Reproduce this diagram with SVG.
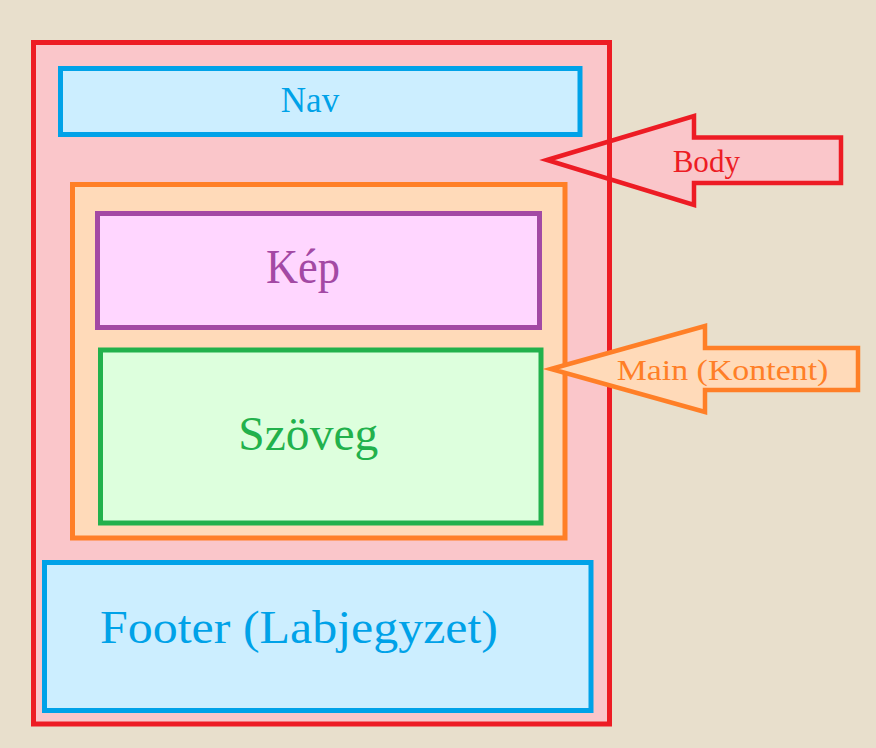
<svg xmlns="http://www.w3.org/2000/svg" width="876" height="748" viewBox="0 0 876 748">
<style>
text{font-family:"Liberation Serif","Times New Roman",serif;text-anchor:middle}
.box{stroke-width:5}
.arr{stroke-width:4.5;stroke-linejoin:miter}
</style>
<rect width="876" height="748" fill="#E8DFCC"/>
<g id="body">
<rect class="box" x="33.5" y="42.5" width="576" height="681.5" fill="#FAC6CA" stroke="#ED1C24"/>
</g>
<g id="nav">
<rect class="box" x="60.5" y="68.5" width="519.5" height="66" fill="#CCEEFF" stroke="#00A2E8"/>
<text x="310" y="111.7" font-size="35" fill="#00A2E8">Nav</text>
</g>
<g id="main">
<rect class="box" x="72.5" y="184.5" width="492.5" height="353.5" fill="#FFDAB9" stroke="#FF7F27"/>
</g>
<g id="kep">
<rect class="box" x="97.5" y="213.5" width="442" height="114" fill="#FFD6FF" stroke="#A349A4"/>
<text x="303" y="282.7" font-size="48" fill="#A349A4" textLength="74" lengthAdjust="spacingAndGlyphs">Kép</text>
</g>
<g id="szoveg">
<rect class="box" x="100.5" y="350" width="440.5" height="173" fill="#DDFFDD" stroke="#22B14C"/>
<text x="308.3" y="450" font-size="48" fill="#22B14C" textLength="140" lengthAdjust="spacingAndGlyphs">Szöveg</text>
</g>
<g id="footer">
<rect class="box" x="44.5" y="562.5" width="546.5" height="148" fill="#CCEEFF" stroke="#00A2E8"/>
<text x="299" y="643.3" font-size="46" fill="#00A2E8" textLength="398" lengthAdjust="spacingAndGlyphs">Footer (Labjegyzet)</text>
</g>
<g id="connectors">
<g id="body-label">
<polygon class="arr" points="547,160 694,116 694,137.5 841,137.5 841,183 694,183 694,205" fill="#FAC6CA" stroke="#ED1C24"/>
<line x1="609.5" y1="130" x2="609.5" y2="195" stroke="#ED1C24" stroke-width="5"/>
<text x="706.3" y="171.7" font-size="31" fill="#ED1C24" textLength="67.3" lengthAdjust="spacingAndGlyphs">Body</text>
</g>
<g id="main-label">
<polygon class="arr" points="551,369 705,326 705,348 858,348 858,390 705,390 705,412" fill="#FFDAB9" stroke="#FF7F27"/>
<text x="722.5" y="380" font-size="30" fill="#FF7F27" textLength="211.7" lengthAdjust="spacingAndGlyphs">Main (Kontent)</text>
</g>
</g>
</svg>
